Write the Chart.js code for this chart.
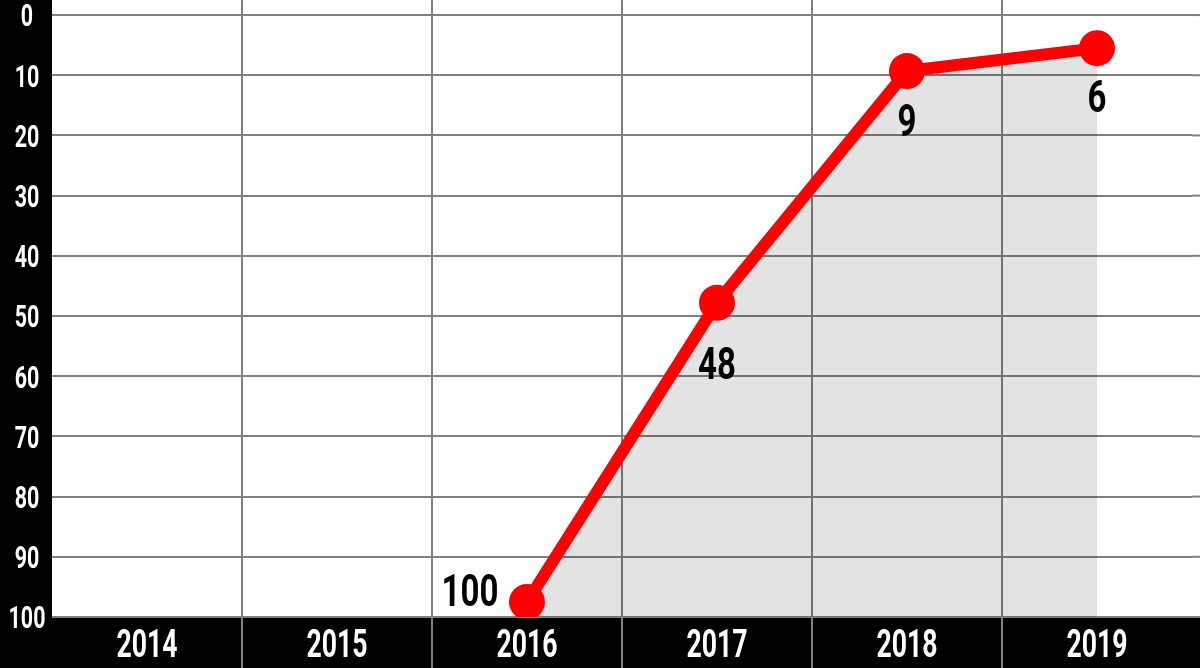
<!DOCTYPE html>
<html>
    <head>
        <title>Chart</title>
        <meta charset="UTF-8">
        <style>
            body {
                margin: 0;
                background: #ffffff;
            }
        </style>
    </head>
    <body>
        <canvas id="myChart" width="1200" height="668"></canvas>

        <script src="https://cdn.jsdelivr.net/npm/chart.js@4.4.1/dist/chart.umd.min.js"></script>
        <script>
            // data
            var years = ['2014', '2015', '2016', '2017', '2018', '2019'];
            var places = [null, null, 97.5, 47.8, 9.3, 5.5];
            var placeLabels = ['', '', '100', '48', '9', '6'];
            var yTicks = [0, 10, 20, 30, 40, 50, 60, 70, 80, 90, 100];

            var font = "Roboto, 'DejaVu Sans', sans-serif";
            var gridColor = '#7f7f7f';

            // where each value label sits relative to its point
            var labelOffsets = {2: [-57, -12], 3: [0, 61], 4: [0, 49], 5: [0, 48]};

            // narrow bold text, centred on (x, cy) by cap height
            function drawText(c, text, x, cy, size, sx, color) {
                c.save();
                c.font = 'bold ' + size + 'px ' + font;
                c.fillStyle = color;
                c.textAlign = 'center';
                c.textBaseline = 'alphabetic';
                c.translate(x, cy + size * 0.711 / 2);
                c.scale(sx, 1);
                c.fillText(text, 0, 0);
                c.restore();
            }

            var bands = {
                id: 'bands',
                beforeDraw: function (chart) {
                    var c = chart.ctx, a = chart.chartArea;
                    c.save();
                    c.fillStyle = '#ffffff';
                    c.fillRect(0, 0, chart.width, chart.height);
                    c.fillStyle = '#000000';
                    c.fillRect(0, 0, a.left, chart.height);
                    c.fillRect(0, a.bottom, chart.width, chart.height - a.bottom);
                    c.restore();
                },
                beforeDatasetsDraw: function (chart) {
                    var c = chart.ctx, a = chart.chartArea;
                    var x = chart.scales.x, y = chart.scales.y;
                    c.save();
                    c.strokeStyle = gridColor;
                    c.lineWidth = 2;
                    // horizontal lines run on to the right edge
                    yTicks.forEach(function (v) {
                        var py = y.getPixelForValue(v);
                        c.beginPath();
                        c.moveTo(a.right, py);
                        c.lineTo(chart.width, py);
                        c.stroke();
                    });
                    // vertical lines go through the bottom band
                    for (var i = 1; i < years.length; i++) {
                        var px = (x.getPixelForValue(i - 1) + x.getPixelForValue(i)) / 2;
                        c.beginPath();
                        c.moveTo(px, a.bottom);
                        c.lineTo(px, chart.height);
                        c.stroke();
                    }
                    c.restore();

                    // tick labels in the black bands
                    yTicks.forEach(function (v) {
                        drawText(c, String(v), a.left / 2 + 1, y.getPixelForValue(v), 32, 0.67, '#ffffff');
                    });
                    years.forEach(function (yr, i) {
                        drawText(c, yr, x.getPixelForValue(i), (a.bottom + chart.height) / 2 + 0.5, 38, 0.7, '#ffffff');
                    });
                }
            };

            var valueLabels = {
                id: 'valueLabels',
                afterDatasetsDraw: function (chart) {
                    var c = chart.ctx;
                    var meta = chart.getDatasetMeta(0);
                    meta.data.forEach(function (pt, i) {
                        if (!placeLabels[i]) {
                            return;
                        }
                        var off = labelOffsets[i] || [0, 50];
                        drawText(c, placeLabels[i], pt.x + off[0], pt.y + off[1], 44, 0.75, '#000000');
                    });
                }
            };

            var ctx = document.getElementById('myChart');
            var myChart = new Chart(ctx, {
                type: 'line',
                data: {
                    labels: years,
                    datasets: [
                        {
                            data: places,
                            borderColor: '#ff0000',
                            borderWidth: 12,
                            backgroundColor: 'rgba(0, 0, 0, 0.11)',
                            fill: 'start',
                            pointRadius: 18,
                            pointHoverRadius: 18,
                            pointBackgroundColor: '#ff0000',
                            pointBorderWidth: 0,
                            tension: 0
                        }
                    ]
                },
                options: {
                    responsive: false,
                    animation: false,
                    layout: {autoPadding: false, padding: {top: 0, right: 8, bottom: 0, left: 0}},
                    plugins: {
                        legend: {display: false},
                        tooltip: {enabled: false}
                    },
                    scales: {
                        x: {
                            offset: true,
                            border: {display: false},
                            grid: {
                                offset: true,
                                drawTicks: false,
                                lineWidth: 2,
                                color: function (c) {
                                    return c.index > 0 ? gridColor : 'transparent';
                                }
                            },
                            ticks: {display: false},
                            afterFit: function (s) {
                                s.height = 51;
                                s.paddingLeft = 0;
                                s.paddingRight = 0;
                            }
                        },
                        y: {
                            reverse: true,
                            min: -2.5,
                            max: 100,
                            border: {display: false},
                            grid: {
                                drawTicks: false,
                                lineWidth: 2,
                                color: gridColor
                            },
                            ticks: {display: false},
                            afterBuildTicks: function (s) {
                                s.ticks = yTicks.map(function (v) {
                                    return {value: v};
                                });
                            },
                            afterFit: function (s) {
                                s.width = 52;
                                s.paddingTop = 0;
                                s.paddingBottom = 0;
                            }
                        }
                    }
                },
                plugins: [bands, valueLabels]
            });
        </script>
    </body>
</html>
